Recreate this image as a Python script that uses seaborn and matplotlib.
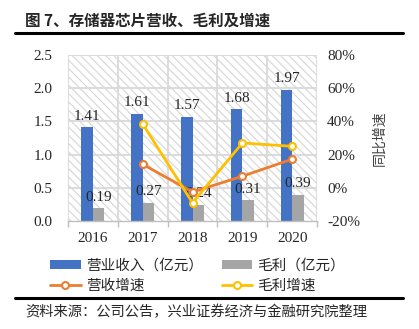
import matplotlib
matplotlib.use("Agg")
import matplotlib.pyplot as plt
import seaborn as sns
import pandas as pd
import numpy as np
from matplotlib.patches import Rectangle, Patch
from matplotlib.lines import Line2D

years = ["2016", "2017", "2018", "2019", "2020"]
revenue = [1.41, 1.61, 1.57, 1.68, 1.97]
gross = [0.19, 0.27, 0.24, 0.31, 0.39]
growth_years = ["2017", "2018", "2019", "2020"]
rev_growth = [14.2, -2.5, 7.0, 17.3]
gross_growth = [38.5, -9.0, 27.0, 25.0]

left_ticks = [0.0, 0.5, 1.0, 1.5, 2.0, 2.5]
right_ticks = [-20, 0, 20, 40, 60, 80]

s_rev = "营业收入（亿元）"
s_gross = "毛利（亿元）"
s_revg = "营收增速"
s_grossg = "毛利增速"

c_blue = "#4472C4"
c_gray = "#A5A5A5"
c_orange = "#ED7D31"
c_yellow = "#FFC000"

sns.set_theme(style="white")
plt.rcParams["font.family"] = ["Liberation Serif", "Noto Sans CJK SC"]
plt.rcParams["hatch.linewidth"] = 0.8
cjk = ["Noto Sans CJK SC", "DejaVu Sans"]

fig = plt.figure(figsize=(4.19, 3.29), dpi=100)
ax = fig.add_axes([0.162, 0.328, 0.595, 0.505])
ax.set_facecolor("white")
bg = Rectangle((0, 0), 1, 1, transform=ax.transAxes, facecolor="white",
               edgecolor="#d6d6d6", hatch="\\\\\\\\", linewidth=0, zorder=0)
ax.add_patch(bg)

df = pd.DataFrame({
    "year": years * 2,
    "value": revenue + gross,
    "series": [s_rev] * len(years) + [s_gross] * len(years),
})
sns.barplot(data=df, x="year", y="value", hue="series", order=years,
            palette=[c_blue, c_gray], width=0.455, dodge=True, ax=ax,
            legend=False, zorder=3, linewidth=0, saturation=1)

for cont in ax.containers:
    for rect in cont:
        h = rect.get_height()
        ax.annotate(f"{h:.2f}", (rect.get_x() + rect.get_width() / 2, h),
                    xytext=(0, 3.5), textcoords="offset points",
                    ha="center", va="bottom", fontsize=11, zorder=6,
                    family="Liberation Serif")

ax.set_ylim(0, 2.5)
ax.set_yticks(left_ticks)
ax.set_yticklabels([f"{v:.1f}" for v in left_ticks])
ax.set_xlim(-0.5, len(years) - 0.5)
ax.set_xlabel("")
ax.set_ylabel("")
ax.set_xticks(np.arange(len(years) + 1) - 0.5, minor=True)
for y in left_ticks[1:]:
    ax.axhline(y, color="#d9d9d9", lw=1.3, zorder=1)
for xv in np.arange(len(years) + 1) - 0.5:
    ax.axvline(xv, color="#d9d9d9", lw=1.3, zorder=1)
for s in ["top", "right", "left"]:
    ax.spines[s].set_visible(False)
ax.spines["bottom"].set_color("#bfbfbf")
ax.spines["bottom"].set_linewidth(1.0)
ax.spines["bottom"].set_zorder(4)
ax.tick_params(axis="y", length=0, pad=11, labelsize=11)
ax.tick_params(axis="x", which="major", length=0, pad=8, labelsize=11)
ax.tick_params(axis="x", which="minor", length=4, color="#bfbfbf", width=1, bottom=True)

ax2 = ax.twinx()
xg = [years.index(y) for y in growth_years]
gdf = pd.DataFrame({"x": xg * 2, "v": rev_growth + gross_growth,
                    "s": [s_revg] * len(xg) + [s_grossg] * len(xg)})
sns.lineplot(data=gdf[gdf.s == s_revg], x="x", y="v", ax=ax2, color=c_orange,
             lw=2, marker="o", markersize=5, markerfacecolor="white",
             markeredgecolor=c_orange, markeredgewidth=1.5, legend=False)
sns.lineplot(data=gdf[gdf.s == s_grossg], x="x", y="v", ax=ax2, color=c_yellow,
             lw=2, marker="o", markersize=5, markerfacecolor="white",
             markeredgecolor=c_yellow, markeredgewidth=1.5, legend=False)
ax2.set_ylim(-20, 80)
ax2.set_yticks(right_ticks)
ax2.set_yticklabels([f"{v}%" for v in right_ticks])
ax2.set_xlim(-0.5, len(years) - 0.5)
ax2.set_xlabel("")
ax2.set_ylabel("同比增速", family=cjk, fontsize=10, color="#404040", labelpad=9)
for s in ["top", "right", "left", "bottom"]:
    ax2.spines[s].set_visible(False)
ax2.tick_params(axis="y", length=0, pad=7, labelsize=11)

handles = [
    Patch(facecolor=c_blue, edgecolor="none"),
    Line2D([], [], color=c_orange, lw=2, marker="o", markersize=5,
           markerfacecolor="white", markeredgecolor=c_orange, markeredgewidth=1.5),
    Patch(facecolor=c_gray, edgecolor="none"),
    Line2D([], [], color=c_yellow, lw=2, marker="o", markersize=5,
           markerfacecolor="white", markeredgecolor=c_yellow, markeredgewidth=1.5),
]
labels = [s_rev, s_revg, s_gross, s_grossg]
fig.legend(handles, labels, loc="upper left", bbox_to_anchor=(50 / 419, 0.213), ncol=2,
           frameon=False, prop={"family": cjk, "size": 10.5}, handlelength=2.1,
           handleheight=0.55, columnspacing=1.3, labelspacing=0.4,
           handletextpad=0.35, borderpad=0, borderaxespad=0)

fig.text(0.06, 0.936, "图 7、存储器芯片营收、毛利及增速", family=cjk, fontsize=11.2,
         weight="bold", ha="left", va="center")
fig.add_artist(Line2D([0.036, 0.962], [0.899, 0.899], color="black", lw=2.2,
                      transform=fig.transFigure))
fig.add_artist(Line2D([0.036, 0.962], [0.093, 0.093], color="black", lw=2.2,
                      transform=fig.transFigure))
fig.text(0.06, 0.053, "资料来源：公司公告，兴业证券经济与金融研究院整理", family=cjk,
         fontsize=10.3, ha="left", va="center")

fig.savefig("out.png", dpi=100)
